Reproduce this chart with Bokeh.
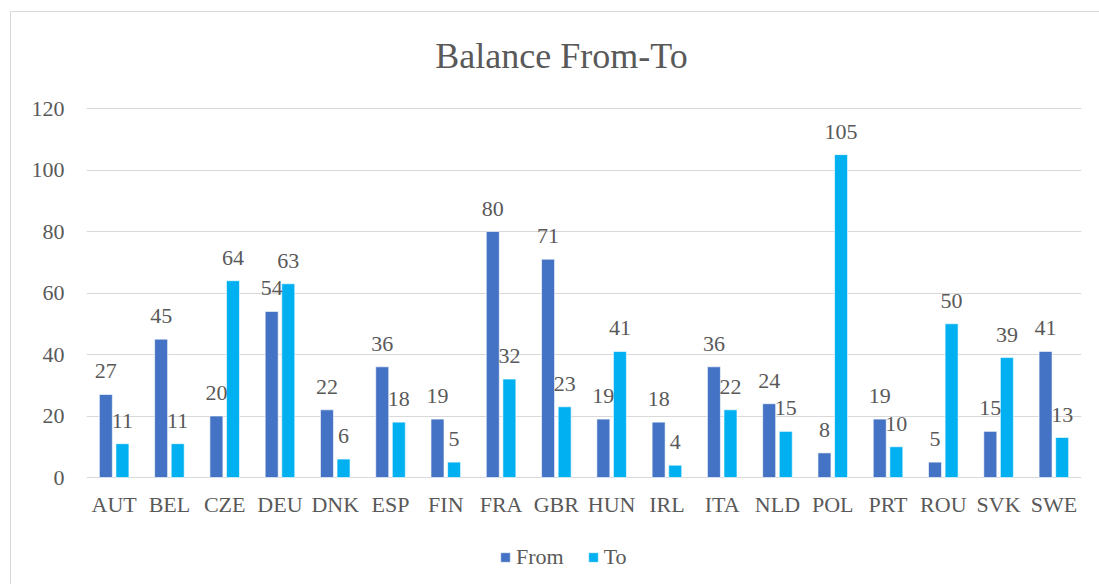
from bokeh.plotting import figure
from bokeh.models import (ColumnDataSource, FactorRange, Range1d, FixedTicker,
                          LabelSet, Label, Legend, LegendItem)
from bokeh.transform import dodge
from bokeh.embed import file_html
from bokeh.resources import INLINE

countries = ["AUT", "BEL", "CZE", "DEU", "DNK", "ESP", "FIN", "FRA", "GBR",
             "HUN", "IRL", "ITA", "NLD", "POL", "PRT", "ROU", "SVK", "SWE"]
from_values = [27, 45, 20, 54, 22, 36, 19, 80, 71, 19, 18, 36, 24, 8, 19, 5, 15, 41]
to_values = [11, 11, 64, 63, 6, 18, 5, 32, 23, 41, 4, 22, 15, 105, 10, 50, 39, 13]
y_ticks = [0, 20, 40, 60, 80, 100, 120]

FONT = "Liberation Serif"
TEXT = "#595959"
GRID = "#d9d9d9"
FROM_COLOR = "#4472C4"
TO_COLOR = "#00B0F0"

source = ColumnDataSource(dict(
    country=countries,
    frm=from_values,
    to=to_values,
    zero=[0] * len(countries),
    frm_txt=[str(v) for v in from_values],
    to_txt=[str(v) for v in to_values],
))

# the frame spans the full chart height so title, category labels and legend
# can all be drawn inside it
p = figure(
    width=1089, height=573,
    x_range=FactorRange(factors=countries, range_padding=0),
    y_range=Range1d(-35.12, 151.22),
    output_backend="svg", toolbar_location=None,
    min_border_left=75, min_border_right=19,
    min_border_top=0, min_border_bottom=0,
)
p.margin = (11, 0, 0, 10)
p.styles = {"border-left": f"1px solid {GRID}", "border-top": f"1px solid {GRID}"}
p.outline_line_color = None
p.background_fill_color = "white"
p.border_fill_color = "white"

bar_w = 0.235
r_from = p.vbar(x=dodge("country", -0.15, range=p.x_range), top="frm", width=bar_w,
                source=source, fill_color=FROM_COLOR, line_color="white", line_width=0.6)
r_to = p.vbar(x=dodge("country", 0.15, range=p.x_range), top="to", width=bar_w,
              source=source, fill_color=TO_COLOR, line_color="white", line_width=0.6)

# value labels above each bar
for col, txt, off in (("frm", "frm_txt", -0.15), ("to", "to_txt", 0.15)):
    p.add_layout(LabelSet(
        x=dodge("country", off, range=p.x_range), y=col, text=txt, source=source,
        y_offset=16, text_align="center", text_baseline="alphabetic",
        text_font=FONT, text_font_size="22px", text_color=TEXT,
    ))

# category labels under the zero line
p.add_layout(LabelSet(
    x="country", y="zero", text="country", source=source,
    y_offset=-34, text_align="center", text_baseline="alphabetic",
    text_font=FONT, text_font_size="22px", text_color=TEXT,
))

# chart title
p.add_layout(Label(
    x=8.593, y=137.2, text="Balance From-To", text_align="center",
    text_baseline="alphabetic", text_font=FONT, text_font_size="36px",
    text_color=TEXT,
))

# axes
p.xaxis.visible = False
p.yaxis.ticker = FixedTicker(ticks=y_ticks)
p.yaxis.axis_line_color = None
p.yaxis.major_tick_line_color = None
p.yaxis.minor_tick_line_color = None
p.yaxis.major_tick_out = 0
p.yaxis.major_tick_in = 0
p.yaxis.major_label_standoff = 22
p.yaxis.major_label_text_font = FONT
p.yaxis.major_label_text_font_size = "22px"
p.yaxis.major_label_text_color = TEXT

p.xgrid.grid_line_color = None
p.ygrid.grid_line_color = GRID
p.ygrid.grid_line_width = 1

legend = Legend(
    items=[LegendItem(label="From", renderers=[r_from]),
           LegendItem(label="To", renderers=[r_to])],
    orientation="horizontal", location=(413, 15),
    glyph_width=12, glyph_height=12, label_standoff=5, spacing=23,
    padding=0, margin=0, border_line_color=None, background_fill_alpha=0,
    label_text_font=FONT, label_text_font_size="22px", label_text_color=TEXT,
)
p.add_layout(legend, "center")

open("out.html", "w").write(file_html(p, INLINE))
